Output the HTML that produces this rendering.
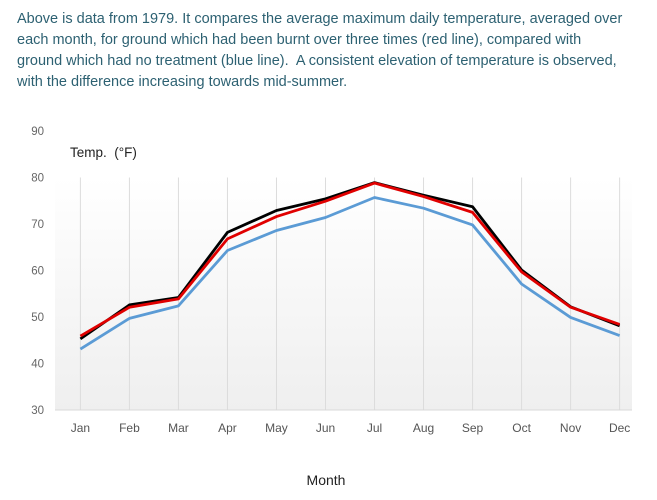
<!DOCTYPE html>
<html><head><meta charset="utf-8"><style>
body{margin:0;width:657px;height:500px;background:#fff;overflow:hidden;font-family:"Liberation Sans",sans-serif}
#desc{position:absolute;left:17px;top:9px;width:640px;font-size:14.5px;line-height:21px;color:#2d6172;white-space:nowrap}
svg{position:absolute;left:0;top:0}
</style></head><body>
<div id="desc">Above is data from 1979. It compares the average maximum daily temperature, averaged over<br>each month, for ground which had been burnt over three times (red line), compared with<br>ground which had no treatment (blue line).&nbsp; A consistent elevation of temperature is observed,<br>with the difference increasing towards mid-summer.</div>
<svg id="chart" width="657" height="500">
<defs><linearGradient id="bg" x1="0" y1="0" x2="0" y2="1"><stop offset="0" stop-color="#fff"/><stop offset="1" stop-color="#efefef"/></linearGradient></defs>
<rect x="55" y="177" width="577" height="233" fill="url(#bg)"/>
<g id="grid"></g><g id="yt"></g><g id="xt"></g><g id="lines"></g>
<text x="70" y="157" font-size="13.5" fill="#222">Temp.&#160; (°F)</text>
<text x="326" y="485" font-size="14" fill="#222" text-anchor="middle">Month</text>
</svg>
<script>
const months=["Jan","Feb","Mar","Apr","May","Jun","Jul","Aug","Sep","Oct","Nov","Dec"];
const yTicks=[30,40,50,60,70,80,90];
const blackSeries=[45.3,52.6,54.2,68.2,72.9,75.4,78.9,76.2,73.7,60.1,52.2,48.1];
const redSeries=[45.9,52.1,53.9,66.8,71.6,74.9,78.8,75.9,72.5,59.7,52.1,48.4];
const blueSeries=[43.1,49.7,52.4,64.3,68.6,71.4,75.7,73.4,69.8,57.1,49.9,46.0];
const NS="http://www.w3.org/2000/svg";
const x=i=>80.4+i*49.02;
const y=v=>410-(v-30)*4.65;
function mk(t,a,p){const e=document.createElementNS(NS,t);for(const k in a)e.setAttribute(k,a[k]);p.appendChild(e);return e;}
const grid=document.getElementById('grid'),yt=document.getElementById('yt'),xt=document.getElementById('xt'),lines=document.getElementById('lines');
months.forEach((m,i)=>{
 const g=mk('line',{x1:x(i),x2:x(i),y1:y(80),y2:410,stroke:'#dcdcdc','stroke-width':1},grid);
 
 
 const t=mk('text',{x:x(i),y:432,'font-size':12,fill:'#555','text-anchor':'middle'},xt);
 t.textContent=m;
 
 
});
const ax=mk('line',{x1:55,x2:632,y1:410,y2:410,stroke:'#d8d8d8','stroke-width':1},grid);


yTicks.forEach(v=>{
 const t=mk('text',{x:44,y:y(v)+4,'font-size':11.5,fill:'#666','text-anchor':'end'},yt);
 t.textContent=v;
 
 
});
[[blueSeries,'#5b9bd5','blue-line-no-treatment'],[blackSeries,'#000','black-line'],[redSeries,'#e00000','red-line-burnt']].forEach(([s,c,n])=>{
 const p=mk('polyline',{points:s.map((v,i)=>x(i)+','+y(v)).join(' '),fill:'none',stroke:c,'stroke-width':2.8,'stroke-linejoin':'round'},lines);
 
 
});
</script>
</body></html>
